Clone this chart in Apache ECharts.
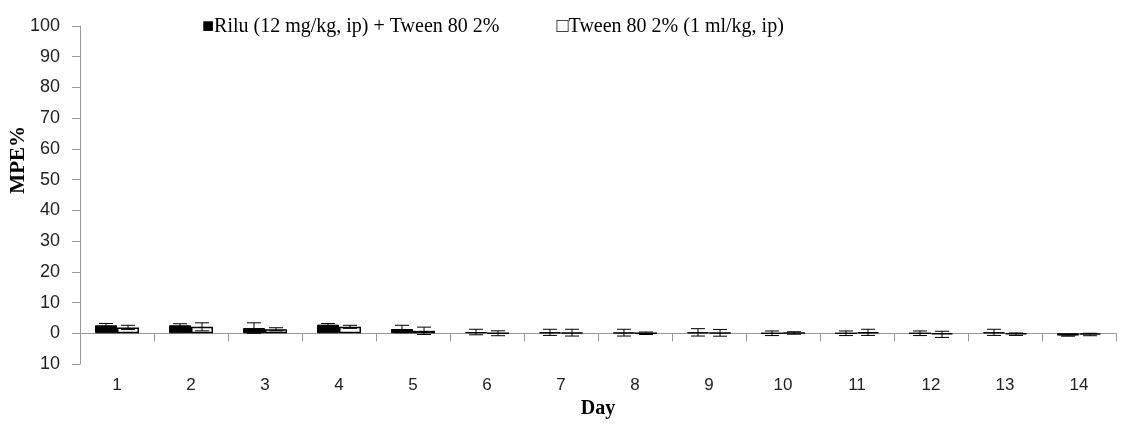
<!DOCTYPE html>
<html>
<head>
<meta charset="utf-8">
<script src="https://cdn.jsdelivr.net/npm/echarts@6/dist/echarts.min.js"></script>
<style>html,body{margin:0;padding:0;background:#fff;}#c{width:1126px;height:432px;}</style>
</head>
<body>
<div id="c"></div>
<script>
var days = ['1','2','3','4','5','6','7','8','9','10','11','12','13','14'];
var seriesNames = ['Rilu (12 mg/kg, ip) + Tween 80 2%', 'Tween 80 2% (1 ml/kg, ip)'];
var riluMean = [2.6, 2.6, 1.7, 2.8, 1.4, 0.4, 0.3, 0.2, 0.3, 0.0, 0.0, 0.0, 0.3, -0.75];
var riluErr  = [0.6, 0.5, 1.7, 0.4, 1.2, 0.9, 1.0, 1.1, 1.2, 0.75, 0.75, 0.75, 1.0, 0.2];
var tweenMean = [1.9, 2.1, 1.3, 2.1, 0.8, 0.0, 0.2, 0.0, 0.15, 0.1, 0.3, -0.35, -0.3, -0.4];
var tweenErr  = [0.7, 1.3, 0.5, 0.5, 1.2, 0.8, 1.1, 0.4, 1.1, 0.4, 1.0, 1.0, 0.4, 0.4];
var yTicks = { min: -10, max: 100, step: 10 };

var chart = echarts.init(document.getElementById('c'), null, {renderer: 'canvas'});

function errSeries(means, errs, side) {
  var data = means.map(function (m, i) { return [i, m - errs[i], m + errs[i]]; });
  return {
    type: 'custom',
    name: side < 0 ? seriesNames[0] + ' SD' : seriesNames[1] + ' SD',
    z: 5,
    data: data,
    renderItem: function (params, api) {
      var x = api.value(0);
      var lo = api.coord([x, api.value(1)]);
      var hi = api.coord([x, api.value(2)]);
      var band = api.size([1, 0])[0];
      var off = side * band * 0.149;
      var cx = lo[0] + off;
      var cap = 7;
      var st = {stroke: '#000', lineWidth: 1};
      return {
        type: 'group',
        children: [
          {type: 'line', shape: {x1: cx, y1: lo[1], x2: cx, y2: hi[1]}, style: st},
          {type: 'line', shape: {x1: cx - cap, y1: lo[1], x2: cx + cap, y2: lo[1]}, style: st},
          {type: 'line', shape: {x1: cx - cap, y1: hi[1], x2: cx + cap, y2: hi[1]}, style: st}
        ]
      };
    }
  };
}

var option = {
  animation: false,
  backgroundColor: '#fff',
  grid: {left: 80, right: 10, top: 26, bottom: 68, containLabel: false, outerBoundsMode: 'none'},
  legend: {
    top: 12, left: 192,
    icon: 'none', itemWidth: 0, itemGap: 52,
    data: seriesNames,
    formatter: function (n) { return (n === seriesNames[0] ? '\u25A0' : '\u25A1') + n; },
    textStyle: {fontFamily: 'Liberation Serif', fontSize: 20, color: '#000'},
    selectedMode: false
  },
  graphic: [{
    type: 'text', left: 8, top: 126, rotation: Math.PI / 2,
    style: {text: 'MPE%', fontFamily: 'Liberation Serif', fontWeight: 'bold', fontSize: 21, fill: '#000'}
  }],
  xAxis: {
    type: 'category', data: days,
    name: 'Day', nameLocation: 'middle', nameGap: 34,
    nameTextStyle: {fontFamily: 'Liberation Serif', fontWeight: 'bold', fontSize: 20, color: '#000'},
    axisLine: {onZero: true, lineStyle: {color: '#999', width: 1}},
    axisTick: {show: true, length: 8, lineStyle: {color: '#999'}},
    axisLabel: {margin: 13, fontFamily: 'Liberation Sans', fontSize: 17, color: '#222'},
    splitLine: {show: false}
  },
  yAxis: {
    type: 'value', min: yTicks.min, max: yTicks.max, interval: yTicks.step,
    axisLine: {show: true, lineStyle: {color: '#999', width: 1}},
    axisTick: {show: true, length: 8, lineStyle: {color: '#999'}},
    axisLabel: {margin: 20, fontFamily: 'Liberation Sans', fontSize: 18, color: '#222',
      formatter: function (v) { return String(Math.abs(v)); }},
    splitLine: {show: false}
  },
  series: [
    {type: 'bar', name: seriesNames[0], data: riluMean, barWidth: 22, barGap: '0%',
      itemStyle: {color: '#000', borderColor: '#000', borderWidth: 1}},
    {type: 'bar', name: seriesNames[1], data: tweenMean, barWidth: 22, barGap: '0%',
      itemStyle: {color: '#fff', borderColor: '#000', borderWidth: 1.5}},
    errSeries(riluMean, riluErr, -1),
    errSeries(tweenMean, tweenErr, 1)
  ]
};
chart.setOption(option);
</script>
</body>
</html>
